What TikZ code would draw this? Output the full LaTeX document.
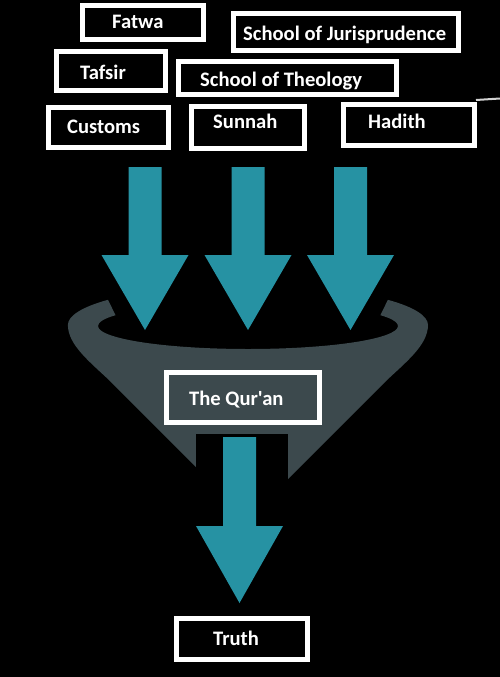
\documentclass[tikz,border=0pt]{standalone}
\usepackage{fontspec}
\setmainfont{Carlito}
\newfontfamily\lblfont{Carlito}
\definecolor{tealA}{RGB}{38,146,163}
\definecolor{funnelgray}{RGB}{60,73,77}
\begin{document}
\begin{tikzpicture}[x=1pt,y=-1pt,
  box/.style={draw=white,line width=5pt,fill=black,inner sep=0pt},
  lbl/.style={text=white,font=\lblfont\bfseries\fontsize{20.6}{24}\selectfont,inner sep=0pt,anchor=base west},
  blockarrow/.style={fill=tealA}]
\fill[black] (0,0) rectangle (500,677);
\useasboundingbox (0,0) rectangle (500,677);
% faint streak
\draw[gray!35,line width=2pt] (476,100) -- (500,98.5);
% funnel
\fill[funnelgray] (108,299.8) arc[start angle=219,end angle=180,x radius=180,y radius=40]
  .. controls (68,345) and (90,362) .. (110,381) -- (232,503) -- (264,503) -- (386,381)
  .. controls (406,362) and (428,345) .. (428,325)
  arc[start angle=0,end angle=-39,x radius=180,y radius=40]
  -- (380.4,315.2) arc[start angle=-28,end angle=208,x radius=150,y radius=23] -- cycle;
% top arrows
\foreach \cx in {145,248,350.5}{
  \fill[blockarrow,shift={(\cx,0)}] (-16.5,167) -- (16.5,167) -- (16.5,255) -- (43.5,255)
    -- (0,330) -- (-43.5,255) -- (-16.5,255) -- cycle;
}
% bottom arrow with black backing
\fill[black] (196,434) rectangle (288,612);
\fill[blockarrow,shift={(239.5,0)}] (-16.5,437) -- (16.5,437) -- (16.5,526) -- (43.5,526)
  -- (0,603) -- (-43.5,526) -- (-16.5,526) -- cycle;
% boxes
\node[box,minimum width=121pt,minimum height=34pt] (fatwa) at (143,22.5) {};
\node[lbl] (fatwaT) at (112,29) {Fatwa};
\node[box,minimum width=225pt,minimum height=37pt] (juris) at (346,32) {};
\node[lbl] (jurisT) at (243,41) {School of Jurisprudence};
\node[box,minimum width=109pt,minimum height=39pt] (tafsir) at (111,71) {};
\node[lbl] (tafsirT) at (80,79) {Tafsir};
\node[box,minimum width=218pt,minimum height=33pt] (theo) at (287.5,78) {};
\node[lbl] (theoT) at (200,86) {School of Theology};
\node[box,minimum width=120pt,minimum height=40pt] (customs) at (108.5,127.5) {};
\node[lbl] (customsT) at (67,133) {Customs};
\node[box,minimum width=113pt,minimum height=42pt] (sunnah) at (248,127.5) {};
\node[lbl] (sunnahT) at (213,128) {Sunnah};
\node[box,minimum width=131pt,minimum height=41pt] (hadith) at (409,125) {};
\node[lbl] (hadithT) at (368,128) {Hadith};
\node[box,fill=funnelgray,minimum width=153pt,minimum height=50pt] (quran) at (243,397.5) {};
\node[lbl] (quranT) at (189,405) {The Qur'an};
\node[box,minimum width=131pt,minimum height=41pt] (truth) at (242,639) {};
\node[lbl] (truthT) at (213,645) {Truth};
\end{tikzpicture}
\end{document}
